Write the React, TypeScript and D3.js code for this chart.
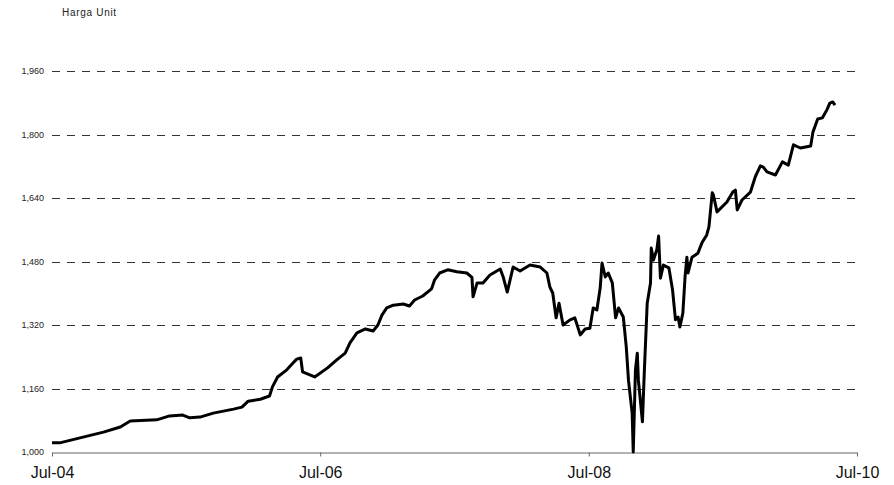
import React, { useRef, useEffect } from 'react';
import * as d3 from 'd3';

// Unit price readings (date, value) taken from the reference chart
const dates: string[] = [
  '2004-07-01', '2004-07-22', '2004-11-18', '2005-01-03', '2005-01-30', '2005-04-12',
  '2005-05-17', '2005-06-22', '2005-07-11', '2005-08-08', '2005-09-13', '2005-11-07',
  '2005-11-30', '2005-12-17', '2006-01-19', '2006-02-13', '2006-02-21', '2006-03-07',
  '2006-04-01', '2006-04-18', '2006-04-28', '2006-05-09', '2006-05-14', '2006-06-16',
  '2006-07-21', '2006-08-15', '2006-09-07', '2006-09-20', '2006-10-09', '2006-11-01',
  '2006-11-22', '2006-12-05', '2006-12-16', '2006-12-29', '2007-01-16', '2007-02-12',
  '2007-03-01', '2007-03-15', '2007-04-06', '2007-04-30', '2007-05-08', '2007-05-22',
  '2007-06-13', '2007-07-08', '2007-08-04', '2007-08-18', '2007-08-21', '2007-09-01',
  '2007-09-17', '2007-10-06', '2007-11-03', '2007-11-11', '2007-11-22', '2007-12-08',
  '2007-12-27', '2008-01-23', '2008-02-20', '2008-03-09', '2008-03-17', '2008-03-25',
  '2008-04-03', '2008-04-11', '2008-04-22', '2008-05-11', '2008-05-24', '2008-06-08',
  '2008-06-21', '2008-07-04', '2008-07-13', '2008-07-23', '2008-08-01', '2008-08-06',
  '2008-08-15', '2008-08-23', '2008-09-03', '2008-09-12', '2008-09-20', '2008-10-03',
  '2008-10-11', '2008-10-17', '2008-10-27', '2008-10-30', '2008-11-05', '2008-11-10',
  '2008-11-13', '2008-11-24', '2008-11-29', '2008-12-07', '2008-12-16', '2008-12-18',
  '2008-12-24', '2009-01-02', '2009-01-07', '2009-01-12', '2009-01-20', '2009-02-04',
  '2009-02-14', '2009-02-22', '2009-03-01', '2009-03-06', '2009-03-14', '2009-03-20',
  '2009-03-25', '2009-03-28', '2009-04-08', '2009-04-24', '2009-05-05', '2009-05-18',
  '2009-05-24', '2009-06-02', '2009-06-05', '2009-06-15', '2009-07-12', '2009-07-28',
  '2009-08-04', '2009-08-09', '2009-08-22', '2009-09-14', '2009-09-27', '2009-10-11',
  '2009-10-19', '2009-10-29', '2009-11-21', '2009-12-10', '2009-12-26', '2010-01-09',
  '2010-01-28', '2010-02-25', '2010-03-03', '2010-03-16', '2010-03-29', '2010-04-10',
  '2010-04-18', '2010-04-26', '2010-05-02',
];

const prices: number[] = [
  1023, 1023, 1050, 1063, 1078, 1081,
  1091, 1093, 1086, 1088, 1098, 1108,
  1113, 1128, 1133, 1141, 1164, 1189,
  1207, 1224, 1234, 1237, 1202, 1189,
  1212, 1232, 1249, 1275, 1300, 1310,
  1305, 1320, 1345, 1363, 1370, 1373,
  1368, 1383, 1393, 1411, 1433, 1451,
  1459, 1454, 1451, 1440, 1391, 1426,
  1426, 1446, 1461, 1441, 1403, 1466,
  1456, 1471, 1466, 1451, 1416, 1400,
  1338, 1375, 1320, 1333, 1338, 1295,
  1310, 1312, 1363, 1358, 1413, 1476,
  1441, 1451, 1426, 1338, 1363, 1340,
  1265, 1181, 1098, 1000, 1207, 1249,
  1181, 1076, 1199, 1375, 1426, 1514,
  1484, 1509, 1544, 1438, 1471, 1464,
  1408, 1333, 1340, 1315, 1350, 1441,
  1491, 1451, 1491, 1501, 1527, 1547,
  1567, 1653, 1648, 1605, 1630, 1655,
  1660, 1610, 1635, 1655, 1693, 1721,
  1718, 1706, 1698, 1731, 1723, 1774,
  1766, 1771, 1806, 1839, 1842, 1862,
  1879, 1882, 1874,
];

const xTickDates: string[] = ['2004-07-01', '2006-07-01', '2008-07-01', '2010-07-01'];
const yTicks: number[] = [1000, 1160, 1320, 1480, 1640, 1800, 1960];
const yTitle = 'Harga Unit';

const W = 894;
const H = 485;
const margin = { left: 52, right: 37, top: 71, bottom: 33 };
const FONT = '"Liberation Sans", Arial, sans-serif';

const App: React.FC = () => {
  const ref = useRef<SVGSVGElement | null>(null);

  useEffect(() => {
    if (!ref.current) return;
    const svg = d3.select<SVGSVGElement, unknown>(ref.current);
    svg.selectAll('*').remove();

    const parse = d3.timeParse('%Y-%m-%d');
    const data = dates.map((d, i) => ({ date: parse(d)!, value: prices[i] }));
    const xTicks = xTickDates.map(d => parse(d)!);

    const x = d3
      .scaleTime()
      .domain([xTicks[0], xTicks[xTicks.length - 1]])
      .range([margin.left, W - margin.right]);
    const y = d3
      .scaleLinear()
      .domain([1000, 1960])
      .range([H - margin.bottom, margin.top]);

    // Dashed gridlines
    svg
      .append('g')
      .selectAll('line')
      .data(yTicks.filter(t => t > 1000))
      .enter()
      .append('line')
      .attr('x1', margin.left)
      .attr('x2', W - margin.right)
      .attr('y1', d => Math.round(y(d)) + 0.5)
      .attr('y2', d => Math.round(y(d)) + 0.5)
      .attr('stroke', '#333')
      .attr('stroke-width', 1)
      .attr('stroke-dasharray', '8,7');

    // Y labels
    svg
      .append('g')
      .selectAll('text')
      .data(yTicks)
      .enter()
      .append('text')
      .attr('x', 44)
      .attr('y', d => y(d) + 3)
      .attr('text-anchor', 'end')
      .style('font-family', FONT)
      .style('font-size', '9px')
      .style('fill', '#222')
      .text(d => d3.format(',')(d));

    // X axis
    const xAxis = d3
      .axisBottom(x)
      .tickValues(xTicks)
      .tickSizeInner(4)
      .tickSizeOuter(0)
      .tickPadding(10)
      .tickFormat(d => d3.timeFormat('%b-%y')(d as Date));
    const gx = svg
      .append('g')
      .attr('transform', `translate(0, ${Math.round(y(1000)) + 0.5})`)
      .call(xAxis);
    gx.select('.domain').attr('stroke', '#666');
    gx.selectAll('.tick line').attr('stroke', '#666');
    gx.selectAll('.tick text')
      .style('font-family', FONT)
      .style('font-size', '16px')
      .style('fill', '#111');

    // Price line
    const line = d3
      .line<{ date: Date; value: number }>()
      .x(d => x(d.date))
      .y(d => y(d.value));
    svg
      .append('path')
      .datum(data)
      .attr('d', line)
      .attr('fill', 'none')
      .attr('stroke', '#000')
      .attr('stroke-width', 3)
      .attr('stroke-linejoin', 'round');

    // Title
    svg
      .append('text')
      .attr('x', 62)
      .attr('y', 16)
      .style('font-family', FONT)
      .style('font-size', '10px')
      .style('letter-spacing', '0.7px')
      .style('fill', '#222')
      .text(yTitle);
  }, []);

  return (
    <svg
      ref={ref}
      width={W}
      height={H}
      style={{ position: 'absolute', left: 0, top: 0, background: '#fff' }}
    />
  );
};

export default App;
